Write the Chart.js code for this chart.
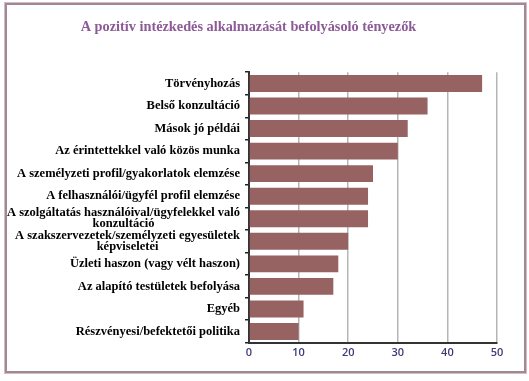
<!DOCTYPE html>
<html>
<head>
<meta charset="utf-8">
<script src="https://cdn.jsdelivr.net/npm/chart.js@4/dist/chart.umd.min.js"></script>
<style>
html,body{margin:0;padding:0;background:#fff;}
#wrap{position:relative;width:529px;height:381px;}
#frame{position:absolute;left:5px;top:3px;width:517px;height:366px;border:2px solid #9e8a92;box-shadow:0 0 0 1px #d9b9c6;pointer-events:none;}
canvas{position:absolute;left:0;top:0;}
</style>
</head>
<body>
<div id="wrap">
<canvas id="c" width="529" height="381"></canvas>
<div id="frame"></div>
</div>
<script>
const chartTitle = "A pozitív intézkedés alkalmazását befolyásoló tényezők";
const categories = [
  ["Törvényhozás"],
  ["Belső konzultáció"],
  ["Mások jó példái"],
  ["Az érintettekkel való közös munka"],
  ["A személyzeti profil/gyakorlatok elemzése"],
  ["A felhasználói/ügyfél profil elemzése"],
  ["A szolgáltatás használóival/ügyfelekkel való", "konzultáció"],
  ["A szakszervezetek/személyzeti egyesületek", "képviseletei"],
  ["Üzleti haszon (vagy vélt haszon)"],
  ["Az alapító testületek befolyása"],
  ["Egyéb"],
  ["Részvényesi/befektetői politika"]
];
const values = [47, 36, 32, 30, 25, 24, 24, 20, 18, 17, 11, 10];
const xTicks = [0, 10, 20, 30, 40, 50];

const labelFont = 'bold 12.5px "Liberation Serif", "Times New Roman", serif';

const yLabelPlugin = {
  id: 'yLabels',
  afterDraw(chart) {
    const ctx = chart.ctx;
    const y = chart.scales.y;
    const xRight = y.right - 9;
    ctx.save();
    ctx.font = labelFont;
    ctx.fillStyle = '#000';
    ctx.textBaseline = 'middle';
    categories.forEach((lines, i) => {
      const py = y.getPixelForTick(i);
      const lh = 11;
      const startY = py - (lines.length - 1) * lh / 2;
      const w0 = ctx.measureText(lines[0]).width;
      const cx = xRight - w0 / 2;
      lines.forEach((ln, j) => {
        if (j === 0) { ctx.textAlign = 'right'; ctx.fillText(ln, xRight, startY); }
        else { ctx.textAlign = 'center'; ctx.fillText(ln, cx, startY + j * lh); }
      });
    });
    ctx.restore();
  }
};

new Chart(document.getElementById('c'), {
  type: 'bar',
  data: {
    labels: categories.map(l => l.join(' ')),
    datasets: [{
      data: values,
      backgroundColor: '#966262',
      borderWidth: 0,
      barPercentage: 0.75,
      categoryPercentage: 1.0
    }]
  },
  options: {
    indexAxis: 'y',
    responsive: false,
    animation: false,
    layout: { padding: { left: 0, right: 32, top: 0, bottom: 19 } },
    plugins: {
      legend: { display: false },
      tooltip: { enabled: false },
      title: {
        display: true,
        text: chartTitle,
        color: '#8c5a96',
        font: { family: '"Liberation Serif", "Times New Roman", serif', size: 14.3, weight: 'bold' },
        padding: { top: 19, bottom: 36 }
      }
    },
    scales: {
      x: {
        min: 0, max: 50,
        afterBuildTicks(scale) { scale.ticks = xTicks.map(v => ({ value: v })); },
        ticks: {
          color: '#3a3a78',
          font: { family: '"Open Sans", "DejaVu Sans", sans-serif', size: 11, weight: '600' },
          padding: 3
        },
        grid: { color: '#b5b5b5', lineWidth: 1.5, drawTicks: false },
        border: { display: true, color: '#333', width: 2 }
      },
      y: {
        afterFit(scale) { scale.width = 249; },
        ticks: { display: false },
        grid: { display: true, drawOnChartArea: false, drawTicks: true, tickLength: 4, color: '#222', lineWidth: 1.5, offset: true },
        border: { display: true, color: '#333', width: 2 }
      }
    }
  },
  plugins: [yLabelPlugin]
});
</script>
</body>
</html>
